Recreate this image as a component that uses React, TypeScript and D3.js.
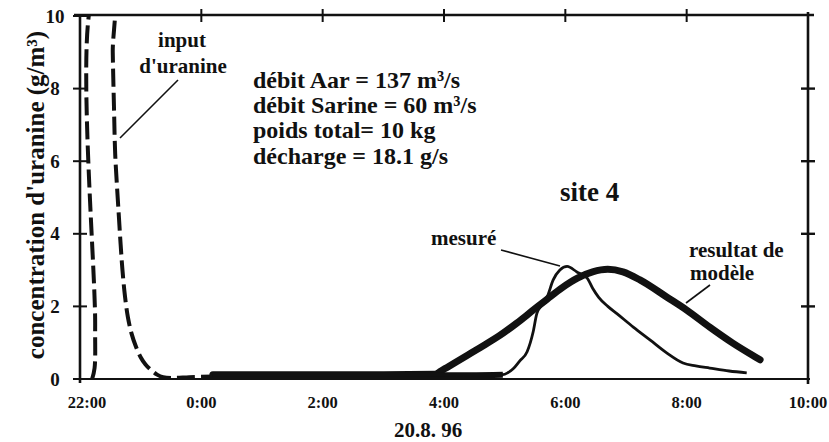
import * as d3 from "d3";
import React, { useMemo } from "react";

// hours after 22:00 on the x axis
const xTickLabels = ["22:00", "0:00", "2:00", "4:00", "6:00", "8:00", "10:00"];
const yTicks = [0, 2, 4, 6, 8, 10];

const inputHours = [0.2, 0.24, 0.25, 0.25, 0.53, 0.54, 0.56, 0.58, 0.61, 0.64, 0.67, 0.7, 0.74, 0.79, 0.85, 0.92, 1.0, 1.08, 1.17, 1.27, 1.37, 1.55, 1.8, 2.2];
const inputValues = [0, 0.3, 1.5, 10.6, 10.6, 9, 7.5, 6.2, 5.3, 4.5, 3.7, 3.0, 2.3, 1.7, 1.25, 0.9, 0.6, 0.4, 0.25, 0.12, 0.05, 0.03, 0.05, 0.07];

const modelHours = [2.19, 3.0, 4.0, 5.0, 5.85, 5.95, 6.05, 6.2, 6.38, 6.6, 6.92, 7.2, 7.45, 7.7, 7.95, 8.2, 8.45, 8.7, 8.95, 9.23, 9.67, 10.0, 10.38, 10.76, 11.16, 11.21];
const modelValues = [0.12, 0.12, 0.12, 0.12, 0.13, 0.22, 0.32, 0.47, 0.65, 0.87, 1.2, 1.54, 1.87, 2.2, 2.52, 2.78, 2.95, 3.02, 2.95, 2.73, 2.26, 1.9, 1.43, 0.99, 0.58, 0.53];

const measuredHours = [2.19, 4.0, 6.0, 6.97, 7.05, 7.14, 7.25, 7.37, 7.47, 7.53, 7.62, 7.7, 7.8, 7.91, 8.03, 8.19, 8.36, 8.45, 8.55, 8.7, 8.85, 9.12, 9.4, 9.67, 9.94, 10.15, 10.38, 10.7, 10.99];
const measuredValues = [0.1, 0.1, 0.1, 0.12, 0.17, 0.28, 0.5, 0.75, 1.3, 1.8, 2.05, 2.26, 2.73, 3.0, 3.1, 2.95, 2.78, 2.5, 2.25, 2.0, 1.8, 1.43, 1.07, 0.72, 0.44, 0.36, 0.3, 0.22, 0.17];

const infoLines = ["débit Aar = 137 m³/s", "débit Sarine = 60 m³/s", "poids total= 10 kg", "décharge = 18.1 g/s"];

const W = 829;
const H = 442;
const left = 80;
const right = 808;
const top = 16;
const bottom = 379;
const font = "'Liberation Serif', 'Times New Roman', serif";

type P = [number, number];

const App: React.FC = () => {
  const x = useMemo(() => d3.scaleLinear().domain([0, 12]).range([left, right]), []);
  const y = useMemo(() => d3.scaleLinear().domain([0, 10]).range([bottom, top]), []);

  const smooth = d3
    .line<P>()
    .x((d) => x(d[0]))
    .y((d) => y(d[1]))
    .curve(d3.curveMonotoneX);
  const pulse = d3
    .line<P>()
    .x((d) => x(d[0]))
    .y((d) => y(d[1]))
    .curve(d3.curveCatmullRom.alpha(0.5));

  const inputPts: P[] = inputHours.map((h, i) => [h, inputValues[i]]);
  const modelPts: P[] = modelHours.map((h, i) => [h, modelValues[i]]);
  const measuredPts: P[] = measuredHours.map((h, i) => [h, measuredValues[i]]);
  const measuredFlat = measuredPts.filter((d) => d[0] <= 6.97);

  return (
    <div style={{ position: "absolute", left: 0, top: 0 }}>
      <svg width={W} height={H} style={{ display: "block", background: "#fff" }}>
        <defs>
          <clipPath id="plot">
            <rect x={left} y={top} width={right - left} height={bottom - top + 4} />
          </clipPath>
        </defs>

        {/* curves */}
        <g clipPath="url(#plot)" fill="none" stroke="#111">
          <path d={pulse(inputPts) ?? ""} strokeWidth={4} strokeDasharray="18,6" />
          <path d={smooth(modelPts) ?? ""} strokeWidth={7} strokeLinecap="round" />
          <path d={smooth(measuredFlat) ?? ""} strokeWidth={6} />
          <path d={smooth(measuredPts) ?? ""} strokeWidth={2.8} />
        </g>

        {/* frame */}
        <g stroke="#111" fill="none">
          <line x1={left} x2={left} y1={top - 1} y2={bottom + 4} strokeWidth={2.6} />
          <line x1={left - 6} x2={right + 6} y1={top - 1} y2={top - 1} strokeWidth={2.4} />
          <line x1={left - 4} x2={right + 2} y1={bottom} y2={bottom} strokeWidth={2.2} />
          <line x1={right} x2={right} y1={top - 4} y2={bottom + 5} strokeWidth={2.6} />
          {yTicks.map((t) => (
            <g key={t}>
              <line x1={left - 7} x2={left + 7} y1={y(t)} y2={y(t)} strokeWidth={2} />
              {t > 0 && t < 10 && (
                <line x1={right - 7} x2={right + 7} y1={y(t)} y2={y(t)} strokeWidth={2.4} />
              )}
            </g>
          ))}
          {xTickLabels.map((_, i) =>
            i > 0 && i < xTickLabels.length - 1 ? (
              <line key={i} x1={x(i * 2)} x2={x(i * 2)} y1={top - 7} y2={top + 6} strokeWidth={2} />
            ) : null
          )}
        </g>

        {/* tick labels */}
        <g fontFamily={font} fontWeight="bold" fill="#111">
          {yTicks.map((t) => (
            <text key={t} x={55} y={y(t)} dy="0.35em" textAnchor="middle" fontSize={19}>
              {t}
            </text>
          ))}
          {xTickLabels.map((lab, i) => (
            <text key={lab} x={i === 0 ? x(0) + 7 : x(i * 2)} y={408} textAnchor="middle" fontSize={16.5}>
              {lab}
            </text>
          ))}
          <text x={428} y={437} textAnchor="middle" fontSize={21}>
            20.8. 96
          </text>
          <text transform="translate(44,195) rotate(-90)" textAnchor="middle" fontSize={25}>
            concentration d'uranine (g/m³)
          </text>
        </g>

        {/* annotations */}
        <g fontFamily={font} fontWeight="bold" fill="#111">
          <text x={182} y={47} textAnchor="middle" fontSize={21}>input</text>
          <text x={183} y={73} textAnchor="middle" fontSize={21}>d'uranine</text>
          {infoLines.map((s, i) => (
            <text key={s} x={253} y={88 + i * 25.2} fontSize={24}>
              {s}
            </text>
          ))}
          <text x={560} y={201} fontSize={27}>site 4</text>
          <text x={431} y={245} fontSize={21}>mesuré</text>
          <text x={689} y={257} fontSize={21}>resultat de</text>
          <text x={690} y={280} fontSize={21}>modèle</text>
        </g>
        <g stroke="#111" strokeWidth={1.6}>
          <line x1={178} y1={80} x2={120} y2={138} />
          <line x1={501} y1={250} x2={560} y2={266} />
          <line x1={710} y1={285} x2={686} y2={303} />
        </g>
      </svg>
    </div>
  );
};

export default App;
